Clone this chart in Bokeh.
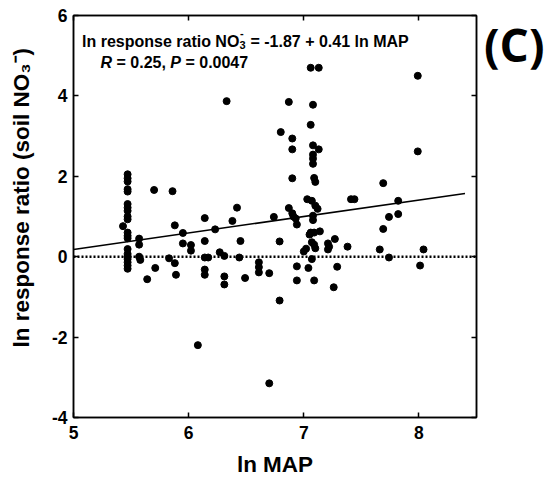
from bokeh.plotting import figure
from bokeh.models import Range1d, LinearAxis, FixedTicker, Label, Span, Div
from bokeh.layouts import row
from bokeh.embed import file_html
from bokeh.resources import INLINE

# ---------------- data ----------------
ln_map = [
    5.47, 5.47, 5.47, 5.47, 5.47, 5.47, 5.47, 5.47, 5.47, 5.47,
    5.47, 5.47, 5.47, 5.47, 5.47, 5.47, 5.47, 5.47, 5.47, 5.47,
    5.43, 5.57, 5.57, 5.57, 5.58, 5.64, 5.70, 5.71,
    5.83, 5.86, 5.88, 5.88, 5.89, 5.95, 5.95, 6.02, 6.02, 6.08,
    6.14, 6.14, 6.14, 6.17, 6.14, 6.14,
    6.23, 6.27, 6.31, 6.31, 6.31, 6.33,
    6.38, 6.42, 6.45, 6.44, 6.49,
    6.61, 6.61, 6.61, 6.70, 6.70,
    6.74, 6.79, 6.79, 6.80,
    6.87, 6.87, 6.90, 6.90, 6.90, 6.90, 6.91, 6.93, 6.94, 6.94, 6.94,
    7.00, 7.02, 7.03, 7.04,
    7.06, 7.08, 7.06, 7.13,
    7.08, 7.13, 7.08, 7.08, 7.08,
    7.09, 7.10,
    7.07, 7.10, 7.12, 7.08, 7.08,
    7.06, 7.09, 7.14, 7.05,
    7.07, 7.09, 7.10,
    7.07, 7.09,
    7.21, 7.22, 7.21, 7.27, 7.26, 7.29,
    7.38, 7.41, 7.44,
    7.66, 7.69, 7.69, 7.74, 7.74, 7.82, 7.82,
    7.99, 7.99, 8.04, 8.01,
]
ln_rr = [
    2.05, 1.95, 1.87, 1.68, 1.62, 1.31, 1.22, 1.14, 1.00, 0.93,
    0.60, 0.52, 0.46, 0.19, 0.07, 0.00, -0.06, -0.14, -0.22, -0.30,
    0.76, 0.45, 0.30, 0.00, -0.08, -0.56, 1.66, -0.28,
    -0.04, 1.63, 0.78, -0.16, -0.45, 0.59, 0.33, 0.29, 0.15, -2.20,
    0.96, 0.39, -0.02, -0.02, -0.32, -0.45,
    0.68, 0.11, 0.02, -0.49, -0.69, 3.87,
    0.89, 1.22, 0.39, -0.02, -0.53,
    -0.14, -0.26, -0.39, -0.41, -3.15,
    0.99, 0.38, -1.09, 3.10,
    3.85, 1.21, 2.94, 2.67, 1.95, 1.08, 1.00, 0.95, 0.80, -0.24, -0.59,
    0.13, 0.20, 1.43, -0.28,
    3.28, 3.78, 4.70, 4.70,
    2.77, 2.67, 2.54, 2.44, 2.31,
    1.96, 1.86,
    1.39, 1.27, 1.19, 1.02, 0.91,
    0.60, 0.60, 0.63, 0.55,
    0.36, 0.30, 0.21,
    -0.06, -0.59,
    0.33, 0.25, 0.18, 0.44, -0.76, -0.25,
    0.25, 1.43, 1.43,
    0.18, 1.83, 0.69, 0.99, -0.02, 1.39, 1.06,
    4.50, 2.62, 0.18, -0.22,
]
fit_intercept = -1.87
fit_slope = 0.41
fit_x = [5.0, 8.4]
x_ticks = [5, 6, 7, 8]
y_ticks = [-4, -2, 0, 2, 4, 6]
y_tick_labels = {-4: "-4", -2: "-2", 0: "0", 2: "2", 4: "4", 6: "6"}

# ---------------- figure ----------------
FONT = "Liberation Sans"
H = 483
L, R, T, B = 73, 476, 15, 417
PW = 480  # figure width; panel tag sits in a Div to its right

p = figure(width=PW, height=H, output_backend="svg", toolbar_location=None,
           x_range=Range1d(5, 8.5), y_range=Range1d(-4, 6),
           min_border_left=L, min_border_right=PW - R,
           min_border_top=T, min_border_bottom=H - B)
p.xgrid.visible = False
p.ygrid.visible = False
p.background_fill_color = "white"
p.border_fill_color = "white"
p.outline_line_color = "black"
p.outline_line_width = 1.5


def X(px):
    return 5 + (px - L) * 3.5 / (R - L)


def Y(py):
    return 6 - (py - T) * 10.0 / (B - T)


def style_axis(ax, ticks, show_labels):
    ax.ticker = FixedTicker(ticks=ticks)
    ax.minor_tick_line_color = None
    ax.major_tick_in = 5
    ax.major_tick_out = 0
    ax.major_tick_line_width = 1.5
    ax.axis_line_width = 1.5
    ax.axis_line_color = "black"
    ax.major_tick_line_color = "black"
    ax.major_label_text_font = FONT
    ax.major_label_text_font_style = "bold"
    ax.major_label_text_color = "black"
    if show_labels:
        ax.major_label_text_font_size = "17.5px"
    else:
        ax.major_label_overrides = {t: "" for t in ticks}
        ax.major_label_text_font_size = "1px"
        ax.major_label_standoff = 0


style_axis(p.xaxis[0], x_ticks, True)
style_axis(p.yaxis[0], y_ticks, True)
p.yaxis[0].major_label_overrides = y_tick_labels
p.xaxis[0].major_label_standoff = 8
p.yaxis[0].major_label_standoff = 6

NB = "\u00a0"
for ax, text, stand in ((p.xaxis[0], "ln MAP", 10),
                        (p.yaxis[0], NB * 6 + "ln response ratio (soil NO\u2083\u207b)", 15)):
    ax.axis_label = text
    ax.axis_label_text_font = FONT
    ax.axis_label_text_font_style = "bold"
    ax.axis_label_text_font_size = "22.5px"
    ax.axis_label_text_color = "black"
    ax.axis_label_standoff = stand

top_ax = LinearAxis()
style_axis(top_ax, x_ticks, False)
p.add_layout(top_ax, "above")
right_ax = LinearAxis()
style_axis(right_ax, y_ticks, False)
p.add_layout(right_ax, "right")

# zero reference line
p.add_layout(Span(location=0, dimension="width", line_color="black",
                  line_width=2.5, line_dash="2 2"))

# regression line
fit_y = [fit_intercept + fit_slope * xv for xv in fit_x]
p.line(fit_x, fit_y, line_color="black", line_width=1.5)

# points
p.scatter(ln_map, ln_rr, size=7, marker="circle", fill_color="black",
          line_color="black")

# ---------------- annotation text ----------------
AW = {' ': 278, '(': 333, ')': 333, ',': 278, '-': 333, '.': 278, '=': 584,
      '+': 584, 'A': 722, 'M': 833, 'N': 722, 'O': 778, 'P': 667, 'R': 722,
      'a': 556, 'e': 556, 'i': 278, 'l': 278, 'n': 611, 'o': 611, 'p': 611,
      'r': 389, 's': 556, 't': 333}


def tw(s, size):
    return sum(AW.get(c, 556) for c in s) * size / 1000.0


def lab(px, py, text, size, style="bold"):
    # leading blanks are collapsed by SVG, so shift instead
    stripped = text.lstrip(" ")
    px += tw(text[:len(text) - len(stripped)], size)
    p.add_layout(Label(x=X(px), y=Y(py), text=stripped, text_font=FONT,
                       text_font_style=style, text_font_size=f"{size}px",
                       text_color="black", text_baseline="alphabetic"))


fs = 16
x0, base1 = 81.5, 41
s1 = "ln response ratio NO"
lab(x0, base1, s1, fs)
xs = x0 + tw(s1, fs)
lab(xs, base1 + 3.5, "3", 11)
lab(xs + 0.5, base1 - 8.5, "-", 11)
lab(xs + tw("3", 11) + 0.5, base1, " = -1.87 + 0.41 ln MAP", fs)

x2, base2 = 100, 62
parts = [("R", "bold italic"), (" = 0.25, ", "bold"), ("P", "bold italic"),
         (" = 0.0047", "bold")]
for txt, st in parts:
    lab(x2, base2, txt, fs, st)
    x2 += tw(txt, fs)

# panel tag, to the right of the plot box
tag = Div(text="(C)", width=553 - PW - 4, height=70, margin=(21, 0, 0, 4),
          styles={"font-family": "Open Sans", "font-weight": "bold",
                  "font-size": "46px", "line-height": "1", "color": "black"})

layout = row(p, tag, spacing=0)
open("out.html", "w").write(file_html(layout, INLINE))
